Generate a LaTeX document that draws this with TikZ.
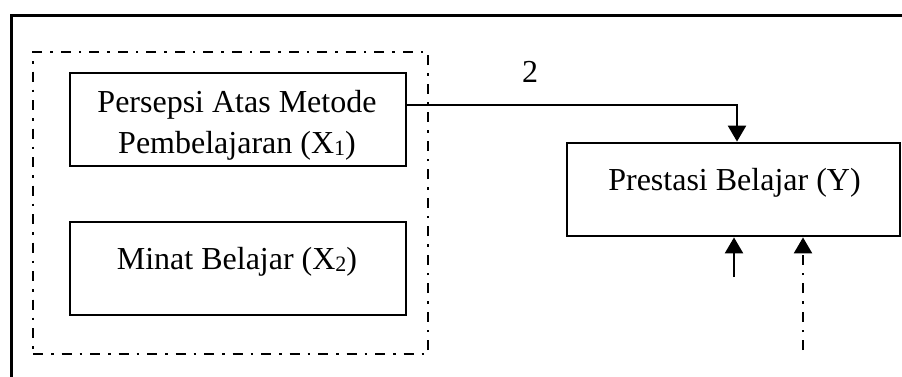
\documentclass[tikz,border=0pt]{standalone}
\usepackage{fontspec}
\setmainfont{Liberation Serif}
\usetikzlibrary{arrows.meta}
\newcommand\subsc[1]{\raisebox{-2.5pt}{\fontsize{22}{22}\selectfont #1}}
\begin{document}
\begin{tikzpicture}[x=1pt,y=-1pt,
  varbox/.style={draw,line width=2.8pt,rectangle,inner sep=0pt},
  txt/.style={font=\fontsize{32}{41}\selectfont,inner sep=0pt},
  grpbox/.style={draw,line width=2.8pt,dash pattern=on 10pt off 8pt on 2.5pt off 8pt},
  arr/.style={line width=2.4pt,-{Triangle[length=16pt,width=18pt]}}]
\useasboundingbox (0,0) rectangle (902,376);
% outer frame (cropped)
\coordinate (fa) at (11,380);
\coordinate (fb) at (11,15);
\coordinate (fc) at (906,15);
\draw[line width=3pt] (fa) -- (fb) -- (fc);
% dash-dot group box
\node[grpbox,minimum width=395pt,minimum height=302pt] (grp) at (230.5,203) {};
% boxes
\node[varbox,minimum width=336pt,minimum height=93pt] (x1) at (238,119.5) {};
\node[varbox,minimum width=336pt,minimum height=93pt] (x2) at (238,268.5) {};
\node[varbox,minimum width=333pt,minimum height=93pt] (y) at (733.5,189.5) {};
% texts
\node[txt,align=center,anchor=base] (x1t) at (237,153) {Persepsi Atas Metode\\Pembelajaran (X\subsc{1})};
\node[txt,anchor=base] (x2t) at (237,269) {Minat Belajar (X\subsc{2})};
\node[txt,anchor=base] (yt) at (734.5,190) {Prestasi Belajar (Y)};
\node[txt,anchor=base] (lbl) at (530,82) {2};
% connectors
\coordinate (bend) at (737,105);
\draw[line width=1.3pt] ([yshift=14.5pt]x1.east) -- (bend);
\draw[arr] ([yshift=0.6pt]bend) -- (bend |- y.north);
\coordinate (e1) at (734,277);
\coordinate (e2) at (803,350);
\draw[arr] (e1) -- (e1 |- y.south);
\draw[arr,dash pattern=on 10pt off 8pt on 2.5pt off 8pt] (e2) -- (e2 |- y.south);
\end{tikzpicture}
\end{document}
